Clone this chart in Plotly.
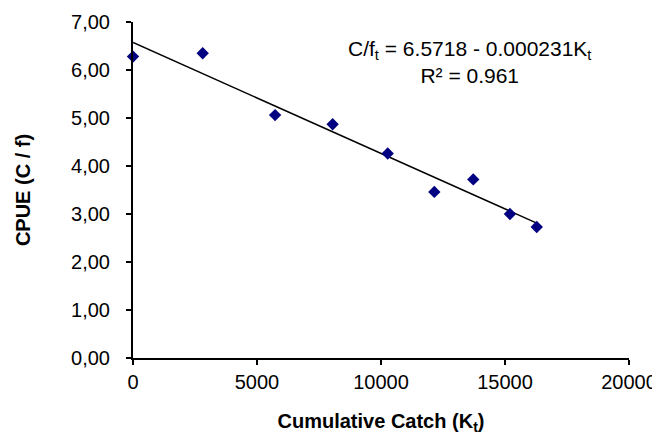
import plotly.graph_objects as go

cum_catch = [0, 2810, 5730, 8050, 10270, 12150, 13720, 15200, 16280]
cpue = [6.28, 6.35, 5.06, 4.87, 4.26, 3.46, 3.72, 3.00, 2.73]

intercept = 6.5718
slope = -0.000231

x_ticks = [0, 5000, 10000, 15000, 20000]
x_tick_labels = ["0", "5000", "10000", "15000", "20000"]
y_ticks = [0, 1, 2, 3, 4, 5, 6, 7]
y_tick_labels = ["0,00", "1,00", "2,00", "3,00", "4,00", "5,00", "6,00", "7,00"]

trend_x = [0, max(cum_catch)]
trend_y = [intercept + slope * v for v in trend_x]

font_family = "Liberation Sans, Arial, sans-serif"
fs = 20

fig = go.Figure()
fig.add_trace(go.Scatter(x=trend_x, y=trend_y, mode="lines",
                         line=dict(color="black", width=1.5),
                         hoverinfo="skip", showlegend=False, cliponaxis=False))
fig.add_trace(go.Scatter(x=cum_catch, y=cpue, mode="markers",
                         marker=dict(symbol="diamond", size=9.5, color="#000080",
                                     line=dict(width=0)),
                         showlegend=False, cliponaxis=False))

fig.add_annotation(x=13550, y=6.17, xref="x", yref="y",
                   text="C/f<sub>t</sub> = 6.5718 - 0.000231K<sub>t</sub><br>R² = 0.961",
                   showarrow=False, align="center",
                   font=dict(family=font_family, size=21, color="black"))

# page body has an 8px default margin, so the figure is sized to fit the window
fig.update_layout(
    width=652, height=427,
    margin=dict(l=125, r=31, t=14, b=77),
    paper_bgcolor="white", plot_bgcolor="white",
    font=dict(family=font_family, color="black"),
    xaxis=dict(range=[0, 20000], tickvals=x_ticks, ticktext=x_tick_labels,
               automargin=False, ticklabeloverflow="allow",
               showgrid=False, zeroline=False, showline=True, linecolor="black",
               linewidth=2, ticks="outside", ticklen=5, tickwidth=1.5,
               tickcolor="black", tickfont=dict(size=fs, family=font_family),
               title=dict(text="<b>Cumulative Catch (K<sub>t</sub>)</b>",
                          font=dict(size=fs, family=font_family), standoff=24)),
    yaxis=dict(range=[0, 7], tickvals=y_ticks, ticktext=y_tick_labels,
               automargin=False, ticklabeloverflow="allow", ticklabelstandoff=12,
               showgrid=False, zeroline=False, showline=True, linecolor="black",
               linewidth=2, ticks="outside", ticklen=5, tickwidth=1.5,
               tickcolor="black", tickfont=dict(size=fs, family=font_family),
               title=dict(text="<b>CPUE (C / f)</b>",
                          font=dict(size=fs, family=font_family), standoff=35)),
)

fig.write_html("out.html")
